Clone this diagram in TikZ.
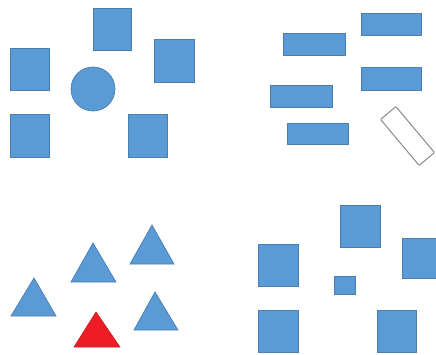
\documentclass[tikz,border=0pt]{standalone}
\definecolor{shapeblue}{HTML}{5B9BD5}
\definecolor{shapeedge}{HTML}{4A7EB0}
\definecolor{shapered}{HTML}{EE1C25}
\definecolor{rededge}{HTML}{C0282D}
\definecolor{outlinegray}{HTML}{8A8A8A}
\tikzset{
  bluefill/.style={fill=shapeblue, draw=shapeedge, line width=0.7pt},
  redfill/.style={fill=shapered, draw=rededge, line width=0.7pt},
  hollow/.style={fill=white, draw=outlinegray, line width=1pt, rounded corners=0.8pt},
}
\begin{document}
\begin{tikzpicture}[x=1pt,y=-1pt]
\useasboundingbox (0,0) rectangle (436,354);
\clip (0,0) rectangle (436,354);
\fill[white] (0,0) rectangle (436,354);
% quadrant 1
\draw[bluefill] (93,8) rectangle (131,50);
\draw[bluefill] (154,39) rectangle (194,82);
\draw[bluefill] (10,48) rectangle (49,90);
\draw[bluefill] (93,89) circle[radius=22];
\draw[bluefill] (10,114) rectangle (49,157);
\draw[bluefill] (128,114) rectangle (167,157);
% quadrant 2
\draw[bluefill] (361,13) rectangle (421,35);
\draw[bluefill] (283,33) rectangle (345,55);
\draw[bluefill] (361,67) rectangle (421,90);
\draw[bluefill] (270,85) rectangle (332,107);
\draw[bluefill] (287,123) rectangle (348,144);
\draw[hollow, rotate around={-50:(407.5,136)}] (377.5,126) rectangle (437.5,146);
% quadrant 3
\draw[bluefill] (152,225) -- (174,264) -- (130,264) -- cycle;
\draw[bluefill] (93,243) -- (116,282) -- (71,282) -- cycle;
\draw[bluefill] (34,278) -- (56,316) -- (11,316) -- cycle;
\draw[bluefill] (155,292) -- (178,330) -- (134,330) -- cycle;
\draw[redfill] (96,312) -- (120,347) -- (74,347) -- cycle;
% quadrant 4
\draw[bluefill] (340,205) rectangle (380,247);
\draw[bluefill] (402,238) rectangle (446,278);
\draw[bluefill] (258,244) rectangle (298,286);
\draw[bluefill] (334,276) rectangle (355,294);
\draw[bluefill] (258,310) rectangle (298,352);
\draw[bluefill] (377,310) rectangle (416,352);
\end{tikzpicture}
\end{document}
